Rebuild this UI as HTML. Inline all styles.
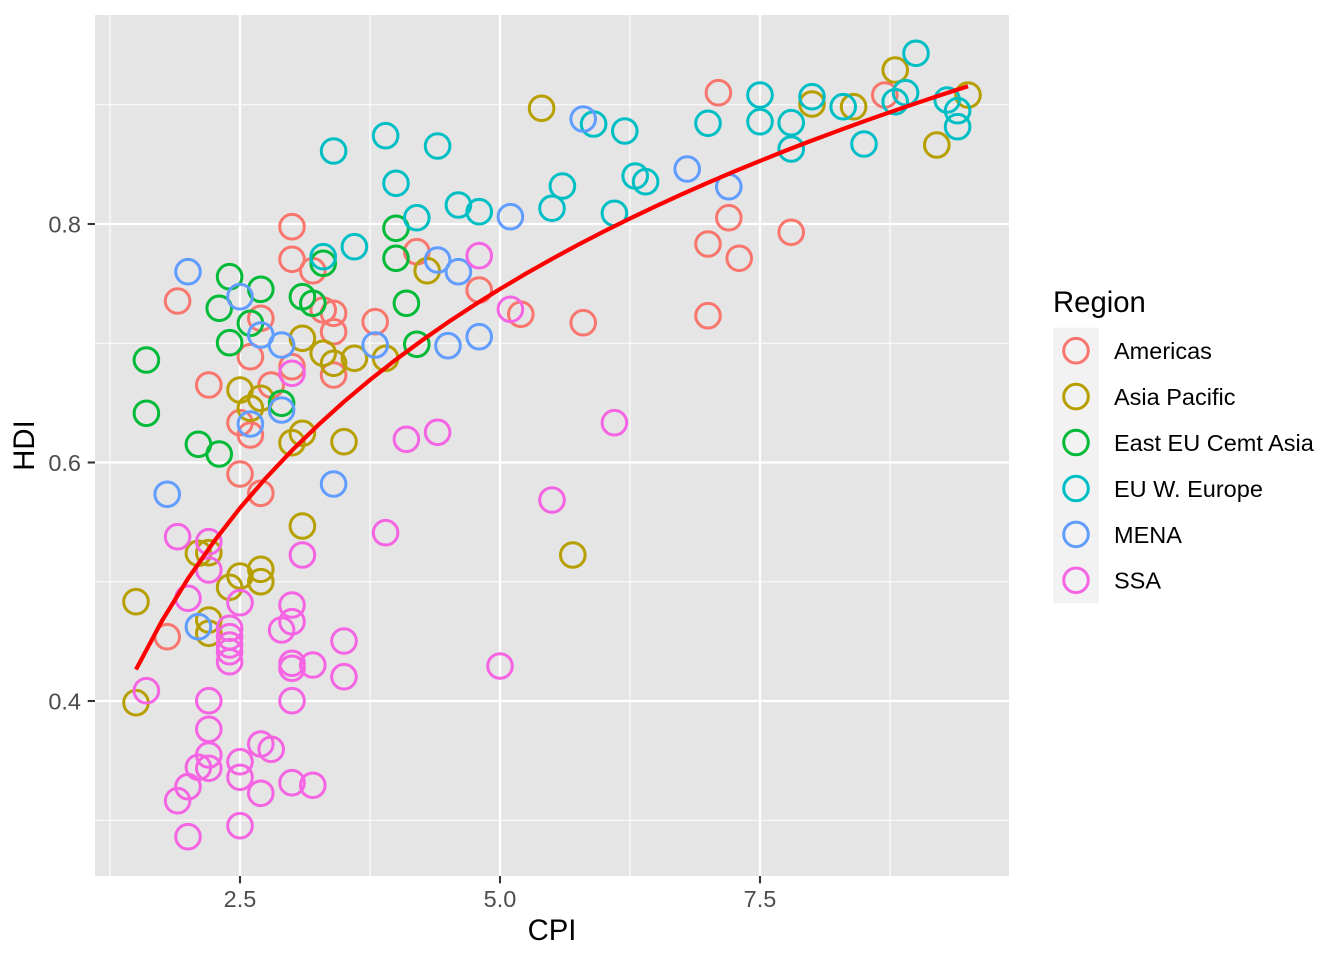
<!DOCTYPE html>
<html>
<head>
<meta charset="utf-8">
<style>
  html, body { margin: 0; padding: 0; background: #ffffff; }
  svg { display: block; }
  text { font-family: "Liberation Sans", Arial, Helvetica, sans-serif; }
</style>
</head>
<body>
<svg width="1344" height="960" viewBox="0 0 1344 960" xmlns="http://www.w3.org/2000/svg">
  <rect x="0" y="0" width="1344" height="960" fill="#ffffff"/>
  <rect x="95" y="15" width="914" height="861" fill="#E5E5E5"/>
  <g stroke="#ffffff" stroke-width="1.1" fill="none">
    <line x1="95" x2="1009" y1="820.25" y2="820.25"/>
    <line x1="95" x2="1009" y1="581.75" y2="581.75"/>
    <line x1="95" x2="1009" y1="343.25" y2="343.25"/>
    <line x1="95" x2="1009" y1="104.75" y2="104.75"/>
    <line y1="15" y2="876" x1="110" x2="110"/>
    <line y1="15" y2="876" x1="370" x2="370"/>
    <line y1="15" y2="876" x1="630" x2="630"/>
    <line y1="15" y2="876" x1="890" x2="890"/>
  </g>
  <g stroke="#ffffff" stroke-width="2.2" fill="none">
    <line x1="95" x2="1009" y1="701" y2="701"/>
    <line x1="95" x2="1009" y1="462.5" y2="462.5"/>
    <line x1="95" x2="1009" y1="224" y2="224"/>
    <line y1="15" y2="876" x1="240" x2="240"/>
    <line y1="15" y2="876" x1="500" x2="500"/>
    <line y1="15" y2="876" x1="760" x2="760"/>
  </g>

  <g fill="none" stroke-width="3">
    <g stroke="#F8766D">
      <circle cx="177.6" cy="301" r="12.3"/>
      <circle cx="208.8" cy="385" r="12.3"/>
      <circle cx="240" cy="422.7" r="12.3"/>
      <circle cx="240" cy="474" r="12.3"/>
      <circle cx="250.4" cy="356.7" r="12.3"/>
      <circle cx="250.4" cy="435" r="12.3"/>
      <circle cx="260.8" cy="318.3" r="12.3"/>
      <circle cx="260.8" cy="493.3" r="12.3"/>
      <circle cx="271.2" cy="385" r="12.3"/>
      <circle cx="292" cy="226.7" r="12.3"/>
      <circle cx="292" cy="259.3" r="12.3"/>
      <circle cx="292" cy="366.7" r="12.3"/>
      <circle cx="312.8" cy="270.7" r="12.3"/>
      <circle cx="323.2" cy="310" r="12.3"/>
      <circle cx="333.6" cy="313.3" r="12.3"/>
      <circle cx="333.6" cy="331.7" r="12.3"/>
      <circle cx="333.6" cy="375" r="12.3"/>
      <circle cx="375.2" cy="321.7" r="12.3"/>
      <circle cx="416.8" cy="251.7" r="12.3"/>
      <circle cx="479.2" cy="290" r="12.3"/>
      <circle cx="520.8" cy="314.3" r="12.3"/>
      <circle cx="583.2" cy="322.7" r="12.3"/>
      <circle cx="708" cy="244" r="12.3"/>
      <circle cx="708" cy="315.7" r="12.3"/>
      <circle cx="718.4" cy="92.7" r="12.3"/>
      <circle cx="728.8" cy="217.7" r="12.3"/>
      <circle cx="739.2" cy="258.3" r="12.3"/>
      <circle cx="791.2" cy="232.3" r="12.3"/>
      <circle cx="884.8" cy="95" r="12.3"/>
      <circle cx="167.2" cy="636.7" r="12.3"/>
    </g>
    <g stroke="#B79F00">
      <circle cx="302.4" cy="338.3" r="12.3"/>
      <circle cx="323.2" cy="353.3" r="12.3"/>
      <circle cx="333.6" cy="363.3" r="12.3"/>
      <circle cx="354.4" cy="358.3" r="12.3"/>
      <circle cx="385.6" cy="358.3" r="12.3"/>
      <circle cx="240" cy="390" r="12.3"/>
      <circle cx="260.8" cy="398.3" r="12.3"/>
      <circle cx="250.4" cy="408.3" r="12.3"/>
      <circle cx="292" cy="442.7" r="12.3"/>
      <circle cx="302.4" cy="433.3" r="12.3"/>
      <circle cx="344" cy="441.7" r="12.3"/>
      <circle cx="427.2" cy="270.7" r="12.3"/>
      <circle cx="541.6" cy="108.3" r="12.3"/>
      <circle cx="572.8" cy="555" r="12.3"/>
      <circle cx="302.4" cy="526" r="12.3"/>
      <circle cx="198.4" cy="553.3" r="12.3"/>
      <circle cx="208.8" cy="552.7" r="12.3"/>
      <circle cx="240" cy="576" r="12.3"/>
      <circle cx="260.8" cy="569.3" r="12.3"/>
      <circle cx="260.8" cy="581.7" r="12.3"/>
      <circle cx="229.6" cy="587.3" r="12.3"/>
      <circle cx="136" cy="601.7" r="12.3"/>
      <circle cx="208.8" cy="620" r="12.3"/>
      <circle cx="208.8" cy="633.3" r="12.3"/>
      <circle cx="136" cy="702.7" r="12.3"/>
      <circle cx="812" cy="104" r="12.3"/>
      <circle cx="853.6" cy="106.7" r="12.3"/>
      <circle cx="895.2" cy="70" r="12.3"/>
      <circle cx="968" cy="95" r="12.3"/>
      <circle cx="936.8" cy="145" r="12.3"/>
    </g>
    <g stroke="#00BA38">
      <circle cx="146.4" cy="360" r="12.3"/>
      <circle cx="146.4" cy="413.3" r="12.3"/>
      <circle cx="229.6" cy="276.7" r="12.3"/>
      <circle cx="260.8" cy="289.3" r="12.3"/>
      <circle cx="219.2" cy="308.3" r="12.3"/>
      <circle cx="250.4" cy="323.3" r="12.3"/>
      <circle cx="229.6" cy="342.7" r="12.3"/>
      <circle cx="323.2" cy="263.3" r="12.3"/>
      <circle cx="396" cy="228.3" r="12.3"/>
      <circle cx="396" cy="258.3" r="12.3"/>
      <circle cx="406.4" cy="303.3" r="12.3"/>
      <circle cx="416.8" cy="344.3" r="12.3"/>
      <circle cx="302.4" cy="296.7" r="12.3"/>
      <circle cx="312.8" cy="303.3" r="12.3"/>
      <circle cx="281.6" cy="403.3" r="12.3"/>
      <circle cx="198.4" cy="444.3" r="12.3"/>
      <circle cx="219.2" cy="454" r="12.3"/>
    </g>
    <g stroke="#00BFC4">
      <circle cx="323.2" cy="256.7" r="12.3"/>
      <circle cx="354.4" cy="246.7" r="12.3"/>
      <circle cx="416.8" cy="217.7" r="12.3"/>
      <circle cx="333.6" cy="151" r="12.3"/>
      <circle cx="385.6" cy="135.7" r="12.3"/>
      <circle cx="396" cy="183.3" r="12.3"/>
      <circle cx="437.6" cy="146" r="12.3"/>
      <circle cx="458.4" cy="205" r="12.3"/>
      <circle cx="479.2" cy="211.7" r="12.3"/>
      <circle cx="552" cy="208.3" r="12.3"/>
      <circle cx="562.4" cy="186" r="12.3"/>
      <circle cx="593.6" cy="124" r="12.3"/>
      <circle cx="614.4" cy="213.3" r="12.3"/>
      <circle cx="624.8" cy="131" r="12.3"/>
      <circle cx="635.2" cy="176" r="12.3"/>
      <circle cx="645.6" cy="181.7" r="12.3"/>
      <circle cx="708" cy="123.3" r="12.3"/>
      <circle cx="760" cy="95" r="12.3"/>
      <circle cx="760" cy="121.7" r="12.3"/>
      <circle cx="791.2" cy="122.7" r="12.3"/>
      <circle cx="791.2" cy="149" r="12.3"/>
      <circle cx="812" cy="96.7" r="12.3"/>
      <circle cx="843.2" cy="106.7" r="12.3"/>
      <circle cx="864" cy="144" r="12.3"/>
      <circle cx="895.2" cy="101.7" r="12.3"/>
      <circle cx="905.6" cy="92.7" r="12.3"/>
      <circle cx="916" cy="53.3" r="12.3"/>
      <circle cx="947.2" cy="100" r="12.3"/>
      <circle cx="957.6" cy="110.7" r="12.3"/>
      <circle cx="957.6" cy="126.7" r="12.3"/>
    </g>
    <g stroke="#619CFF">
      <circle cx="188" cy="271.7" r="12.3"/>
      <circle cx="240" cy="296.7" r="12.3"/>
      <circle cx="260.8" cy="335" r="12.3"/>
      <circle cx="281.6" cy="345" r="12.3"/>
      <circle cx="375.2" cy="345" r="12.3"/>
      <circle cx="281.6" cy="410" r="12.3"/>
      <circle cx="250.4" cy="424" r="12.3"/>
      <circle cx="333.6" cy="484" r="12.3"/>
      <circle cx="167.2" cy="494.3" r="12.3"/>
      <circle cx="198.4" cy="626.7" r="12.3"/>
      <circle cx="583.2" cy="119" r="12.3"/>
      <circle cx="687.2" cy="169" r="12.3"/>
      <circle cx="728.8" cy="186.7" r="12.3"/>
      <circle cx="510.4" cy="216.7" r="12.3"/>
      <circle cx="437.6" cy="260" r="12.3"/>
      <circle cx="458.4" cy="271.7" r="12.3"/>
      <circle cx="448" cy="345.7" r="12.3"/>
      <circle cx="479.2" cy="336.7" r="12.3"/>
    </g>
    <g stroke="#F564E3">
      <circle cx="292" cy="373.3" r="12.3"/>
      <circle cx="406.4" cy="439.3" r="12.3"/>
      <circle cx="437.6" cy="432.3" r="12.3"/>
      <circle cx="614.4" cy="422.7" r="12.3"/>
      <circle cx="552" cy="500" r="12.3"/>
      <circle cx="500" cy="666" r="12.3"/>
      <circle cx="479.2" cy="255.7" r="12.3"/>
      <circle cx="510.4" cy="309.3" r="12.3"/>
      <circle cx="385.6" cy="532.7" r="12.3"/>
      <circle cx="302.4" cy="555" r="12.3"/>
      <circle cx="177.6" cy="536.7" r="12.3"/>
      <circle cx="208.8" cy="541.7" r="12.3"/>
      <circle cx="208.8" cy="570" r="12.3"/>
      <circle cx="240" cy="602.7" r="12.3"/>
      <circle cx="188" cy="598.3" r="12.3"/>
      <circle cx="292" cy="605" r="12.3"/>
      <circle cx="292" cy="621.7" r="12.3"/>
      <circle cx="281.6" cy="630" r="12.3"/>
      <circle cx="344" cy="641" r="12.3"/>
      <circle cx="229.6" cy="628.3" r="12.3"/>
      <circle cx="229.6" cy="636.7" r="12.3"/>
      <circle cx="229.6" cy="645" r="12.3"/>
      <circle cx="229.6" cy="651.7" r="12.3"/>
      <circle cx="229.6" cy="661.7" r="12.3"/>
      <circle cx="292" cy="663.3" r="12.3"/>
      <circle cx="292" cy="668.3" r="12.3"/>
      <circle cx="312.8" cy="665" r="12.3"/>
      <circle cx="344" cy="676.7" r="12.3"/>
      <circle cx="146.4" cy="690.7" r="12.3"/>
      <circle cx="208.8" cy="700.7" r="12.3"/>
      <circle cx="292" cy="700.7" r="12.3"/>
      <circle cx="208.8" cy="729.3" r="12.3"/>
      <circle cx="208.8" cy="755" r="12.3"/>
      <circle cx="198.4" cy="767.3" r="12.3"/>
      <circle cx="208.8" cy="768.3" r="12.3"/>
      <circle cx="188" cy="786.7" r="12.3"/>
      <circle cx="177.6" cy="800.7" r="12.3"/>
      <circle cx="188" cy="836.7" r="12.3"/>
      <circle cx="240" cy="761.7" r="12.3"/>
      <circle cx="240" cy="777.3" r="12.3"/>
      <circle cx="240" cy="825.7" r="12.3"/>
      <circle cx="260.8" cy="744" r="12.3"/>
      <circle cx="271.2" cy="749.3" r="12.3"/>
      <circle cx="260.8" cy="793.3" r="12.3"/>
      <circle cx="292" cy="782.7" r="12.3"/>
      <circle cx="312.8" cy="785.3" r="12.3"/>
    </g>
  </g>

  <polyline fill="none" stroke="#FF0000" stroke-width="4.2" stroke-linejoin="round"
    points="136,669.5 162,620.8 188,578.6 214,541.4 240,508.0 266,477.9 292,450.4 318,425.2 344,401.7 370,379.9 396,359.5 422,340.4 448,322.3 474,305.2 500,289.0 526,273.6 552,258.9 578,244.8 604,231.4 630,218.5 656,206.1 682,194.2 708,182.7 734,171.6 760,160.9 786,150.5 812,140.5 838,130.8 864,121.3 890,112.2 916,103.3 942,94.6 968,86.2"/>

  <g stroke="#333333" stroke-width="2.1">
    <line x1="87.7" x2="95" y1="701" y2="701"/>
    <line x1="87.7" x2="95" y1="462.5" y2="462.5"/>
    <line x1="87.7" x2="95" y1="224" y2="224"/>
    <line x1="240" x2="240" y1="876" y2="883.3"/>
    <line x1="500" x2="500" y1="876" y2="883.3"/>
    <line x1="760" x2="760" y1="876" y2="883.3"/>
  </g>
  <g fill="#4D4D4D" font-size="23.5">
    <text x="81" y="709.4" text-anchor="end">0.4</text>
    <text x="81" y="470.9" text-anchor="end">0.6</text>
    <text x="81" y="232.4" text-anchor="end">0.8</text>
    <text x="240" y="907" text-anchor="middle">2.5</text>
    <text x="500" y="907" text-anchor="middle">5.0</text>
    <text x="760" y="907" text-anchor="middle">7.5</text>
  </g>
  <text x="552" y="940" text-anchor="middle" font-size="29.3" fill="#000000">CPI</text>
  <text transform="translate(34,445.5) rotate(-90)" text-anchor="middle" font-size="29.3" fill="#000000">HDI</text>

  <text x="1053" y="312" font-size="29.3" fill="#000000">Region</text>
  <rect x="1053" y="327.7" width="46" height="275.6" fill="#F2F2F2"/>
  <g fill="none" stroke-width="3">
    <circle cx="1076" cy="350.7" r="12.3" stroke="#F8766D"/>
    <circle cx="1076" cy="396.6" r="12.3" stroke="#B79F00"/>
    <circle cx="1076" cy="442.5" r="12.3" stroke="#00BA38"/>
    <circle cx="1076" cy="488.5" r="12.3" stroke="#00BFC4"/>
    <circle cx="1076" cy="534.4" r="12.3" stroke="#619CFF"/>
    <circle cx="1076" cy="580.3" r="12.3" stroke="#F564E3"/>
  </g>
  <g font-size="23.5" fill="#000000">
    <text x="1114" y="359.1">Americas</text>
    <text x="1114" y="405">Asia Pacific</text>
    <text x="1114" y="450.9">East EU Cemt Asia</text>
    <text x="1114" y="496.9">EU W. Europe</text>
    <text x="1114" y="542.8">MENA</text>
    <text x="1114" y="588.7">SSA</text>
  </g>
</svg>
</body>
</html>
